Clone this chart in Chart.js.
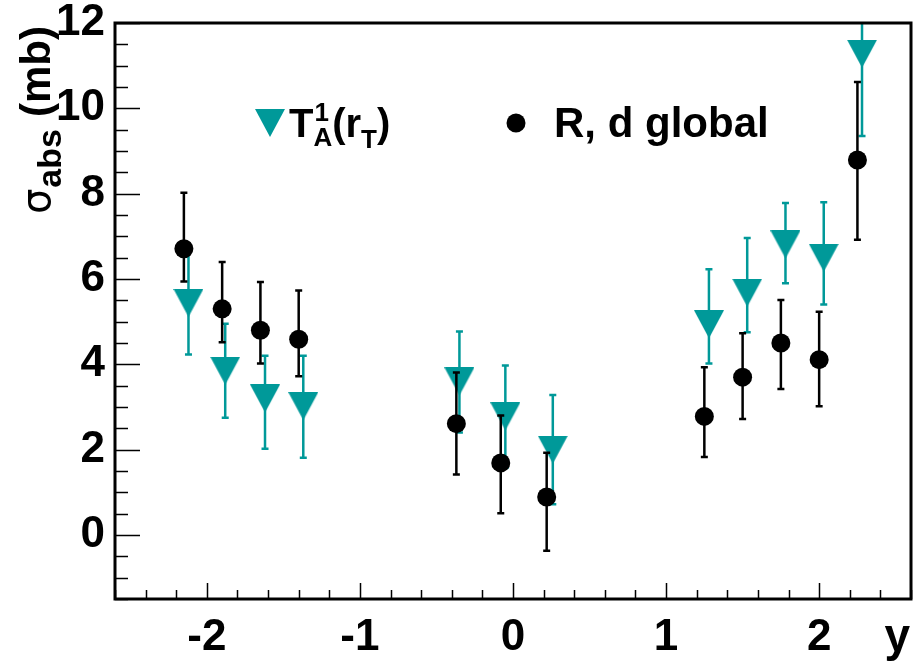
<!DOCTYPE html>
<html>
<head>
<meta charset="utf-8">
<script src="https://cdn.jsdelivr.net/npm/chart.js@4.4.0/dist/chart.umd.min.js"></script>
<style>
  body { margin: 0; background: #fff; }
  canvas { display: block; }
</style>
</head>
<body>
<canvas id="chart" width="915" height="666"></canvas>
<script>
// === DATA ===
// R, d global (black circles)
const rdX  = [-2.15, -1.90, -1.65, -1.40, -0.37, -0.08, 0.22, 1.25, 1.50, 1.75, 2.00, 2.25];
const rdY  = [6.71, 5.30, 4.80, 4.59, 2.61, 1.69, 0.89, 2.78, 3.70, 4.50, 4.11, 8.79];
const rdHi = [8.02, 6.40, 5.93, 5.73, 3.81, 2.80, 1.93, 3.93, 4.73, 5.51, 5.23, 10.62];
const rdLo = [5.94, 4.52, 4.02, 3.72, 1.42, 0.51, -0.37, 1.83, 2.72, 3.42, 3.02, 6.92];

// T_A^1(r_T) (teal triangles)
const taX  = [-2.12, -1.88, -1.62, -1.37, -0.35, -0.05, 0.26, 1.28, 1.53, 1.78, 2.03, 2.28];
const taY  = [5.44, 3.85, 3.20, 3.02, 3.60, 2.78, 2.00, 4.94, 5.68, 6.81, 6.50, 11.28];
const taHi = [6.64, 4.95, 4.20, 4.20, 4.77, 3.97, 3.28, 6.23, 6.96, 7.78, 7.80, 13.20];
const taLo = [4.23, 2.75, 2.02, 1.81, 2.40, 1.58, 0.72, 4.02, 4.75, 5.90, 5.40, 9.35];

const xTicks = [-2, -1, 0, 1, 2];
const yTicks = [0, 2, 4, 6, 8, 10, 12];

const TEAL = "#009999";
const FONT = "'Liberation Sans', Arial, sans-serif";

// down-triangle marker, centred on its bounding box (ROOT style)
function makeTriangle(w, h) {
    const c = document.createElement("canvas");
    c.width = w; c.height = h;
    const g = c.getContext("2d");
    g.fillStyle = TEAL;
    g.beginPath();
    g.moveTo(0, 0); g.lineTo(w, 0); g.lineTo(w / 2, h);
    g.closePath(); g.fill();
    return c;
}
const triMarker = makeTriangle(30, 28);

const toPoints = (xs, ys) => xs.map((x, i) => ({ x: x, y: ys[i] }));

// error bars, drawn just before each dataset so the stacking matches
const errorBars = {
    id: "errorBars",
    beforeDatasetDraw(chart, args) {
        const ds = chart.data.datasets[args.index];
        const xs = chart.scales.x, ys = chart.scales.y;
        const a = chart.chartArea;
        const ctx = chart.ctx;
        ctx.save();
        ctx.beginPath();
        ctx.rect(a.left, a.top, a.right - a.left, a.bottom - a.top);
        ctx.clip();
        ctx.strokeStyle = ds.errColor;
        ctx.lineWidth = 2.5;
        ds.data.forEach((p, i) => {
            const px = xs.getPixelForValue(p.x);
            const t = ys.getPixelForValue(ds.errHi[i]);
            const b = ys.getPixelForValue(ds.errLo[i]);
            ctx.beginPath();
            ctx.moveTo(px, t); ctx.lineTo(px, b);
            ctx.moveTo(px - 3.5, t); ctx.lineTo(px + 3.5, t);
            ctx.moveTo(px - 3.5, b); ctx.lineTo(px + 3.5, b);
            ctx.stroke();
        });
        ctx.restore();
    },
};

// frame, inward ticks, legend and axis titles
const decorations = {
    id: "decorations",
    afterDraw(chart) {
        const ctx = chart.ctx;
        const a = chart.chartArea;
        const xs = chart.scales.x, ys = chart.scales.y;
        ctx.save();
        ctx.strokeStyle = "#000";

        // ticks
        ctx.lineWidth = 1.5;
        ctx.beginPath();
        for (let k = -13; k <= 13; k++) {
            const v = k * 0.2;
            const px = Math.round(xs.getPixelForValue(v)) + 0.5;
            const len = (k % 5 === 0) ? 16 : 9;
            ctx.moveTo(px, a.bottom); ctx.lineTo(px, a.bottom - len);
        }
        for (let k = -3; k <= 24; k++) {
            const v = k * 0.5;
            const py = Math.round(ys.getPixelForValue(v)) + 0.5;
            const len = (k % 4 === 0) ? 25 : 13;
            ctx.moveTo(a.left, py); ctx.lineTo(a.left + len, py);
        }
        ctx.stroke();

        // frame
        ctx.lineWidth = 3;
        ctx.strokeRect(a.left, a.top, a.right - a.left, a.bottom - a.top);

        // legend
        ctx.drawImage(triMarker, 255, 109);
        ctx.fillStyle = "#000";
        ctx.beginPath();
        ctx.arc(516, 123, 9.5, 0, Math.PI * 2);
        ctx.fill();

        ctx.textBaseline = "alphabetic";
        ctx.textAlign = "left";
        const big = "bold 40px " + FONT;
        const small = "bold 26px " + FONT;
        let x = 289;
        const base = 137;
        ctx.font = big; ctx.fillText("T", x, base);
        x += ctx.measureText("T").width;
        ctx.font = small;
        ctx.fillText("1", x + 1, base - 16);
        ctx.fillText("A", x, base + 9);
        x += ctx.measureText("A").width;
        ctx.font = big; ctx.fillText("(r", x, base);
        x += ctx.measureText("(r").width;
        ctx.font = small; ctx.fillText("T", x, base + 11);
        x += ctx.measureText("T").width;
        ctx.font = big; ctx.fillText(")", x, base);

        ctx.font = "bold 42px " + FONT;
        ctx.fillText("R, d global", 554, base);

        // x title
        ctx.font = "bold 46px " + FONT;
        ctx.textAlign = "right";
        ctx.fillText("y", 910, 651);

        // y title (rotated)
        ctx.translate(50, 214);
        ctx.rotate(-Math.PI / 2);
        ctx.textAlign = "left";
        let tx = 0;
        ctx.font = "40px 'DejaVu Sans', sans-serif";
        ctx.fillText("\u03c3", tx, 0);
        tx += ctx.measureText("\u03c3").width + 1;
        ctx.font = "bold 34px " + FONT;
        ctx.fillText("abs", tx, 11);
        tx += ctx.measureText("abs").width + 12;
        ctx.font = "bold 42px " + FONT;
        ctx.fillText("(mb)", tx, 0);

        ctx.restore();
    },
};

const ctx = document.getElementById("chart").getContext("2d");
const chart = new Chart(ctx, {
    type: "scatter",
    data: {
        datasets: [
            {
                label: "R, d global",
                data: toPoints(rdX, rdY),
                errHi: rdHi,
                errLo: rdLo,
                errColor: "#000",
                pointStyle: "circle",
                pointRadius: 9.5,
                backgroundColor: "#000",
                borderColor: "#000",
                borderWidth: 0,
            },
            {
                label: "T_A^1(r_T)",
                data: toPoints(taX, taY),
                errHi: taHi,
                errLo: taLo,
                errColor: TEAL,
                pointStyle: triMarker,
                pointRadius: 15,
                backgroundColor: TEAL,
                borderColor: TEAL,
            },
        ],
    },
    options: {
        responsive: false,
        animation: false,
        events: [],
        layout: { autoPadding: false, padding: { top: 23, right: 4, left: 0, bottom: 0 } },
        plugins: {
            legend: { display: false },
            tooltip: { enabled: false },
        },
        scales: {
            x: {
                type: "linear",
                min: -2.6,
                max: 2.6,
                grid: { display: false, drawTicks: false },
                border: { display: false },
                afterBuildTicks: (s) => { s.ticks = xTicks.map(v => ({ value: v })); },
                afterFit: (s) => { s.height = 67; s.paddingLeft = 0; s.paddingRight = 0; },
                ticks: {
                    color: "#000",
                    padding: 12,
                    maxRotation: 0,
                    font: { family: FONT, size: 44, weight: "bold" },
                },
            },
            y: {
                type: "linear",
                min: -1.5,
                max: 12,
                grid: { display: false, drawTicks: false },
                border: { display: false },
                afterBuildTicks: (s) => { s.ticks = yTicks.map(v => ({ value: v })); },
                afterFit: (s) => { s.width = 115; s.paddingTop = 0; s.paddingBottom = 0; },
                ticks: {
                    color: "#000",
                    padding: 10,
                    font: { family: FONT, size: 44, weight: "bold" },
                },
            },
        },
    },
    plugins: [errorBars, decorations],
});
</script>
</body>
</html>
